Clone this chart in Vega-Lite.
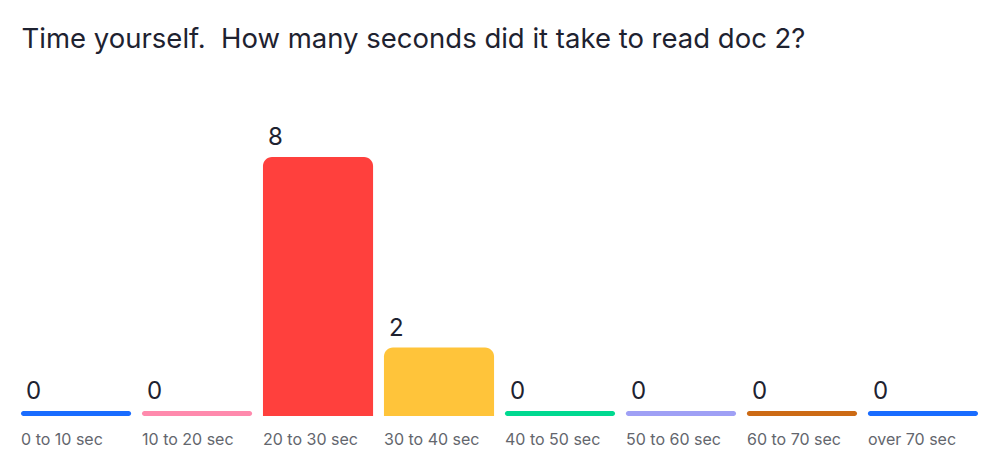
{
  "$schema": "https://vega.github.io/schema/vega-lite/v6.json",
  "width": 957,
  "height": 336,
  "autosize": {"type": "none"},
  "padding": {"left": 21, "top": 80, "right": 22, "bottom": 43},
  "background": "white",
  "title": {
    "text": "Time yourself.\u00a0 How many seconds did it take to read doc 2?",
    "anchor": "start",
    "font": "Inter",
    "fontSize": 27.5,
    "fontWeight": "normal",
    "color": "#1e2230",
    "offset": 27,
    "dx": 1
  },
  "config": {"view": {"stroke": null}, "font": "Inter"},
  "data": {
    "values": [
      {"cat": "0 to 10 sec", "value": 0, "color": "#196cff"},
      {"cat": "10 to 20 sec", "value": 0, "color": "#ff8aad"},
      {"cat": "20 to 30 sec", "value": 8, "color": "#ff403d"},
      {"cat": "30 to 40 sec", "value": 2, "color": "#ffc43a"},
      {"cat": "40 to 50 sec", "value": 0, "color": "#00d990"},
      {"cat": "50 to 60 sec", "value": 0, "color": "#9fa0f5"},
      {"cat": "60 to 70 sec", "value": 0, "color": "#cc6a14"},
      {"cat": "over 70 sec", "value": 0, "color": "#196cff"}
    ]
  },
  "encoding": {
    "x": {
      "field": "cat",
      "type": "nominal",
      "sort": null,
      "scale": {
        "domain": ["0 to 10 sec", "10 to 20 sec", "20 to 30 sec", "30 to 40 sec", "40 to 50 sec", "50 to 60 sec", "60 to 70 sec", "over 70 sec"],
        "paddingInner": 0.09,
        "paddingOuter": 0
      },
      "axis": {
        "title": null,
        "domain": false,
        "ticks": false,
        "labelAngle": 0,
        "labelAlign": "left",
        "labelOffset": -55,
        "labelPadding": 15,
        "labelFontSize": 16,
        "labelColor": "#63666d",
        "labelFont": "Inter"
      }
    }
  },
  "layer": [
    {
      "transform": [{"filter": "datum.value > 0"}],
      "mark": {"type": "bar", "cornerRadiusTopLeft": 9, "cornerRadiusTopRight": 9},
      "encoding": {
        "y": {
          "field": "value",
          "type": "quantitative",
          "scale": {"domain": [-0.157, 10.43], "nice": false, "zero": false},
          "axis": null
        },
        "y2": {"datum": -0.157},
        "color": {"field": "color", "type": "nominal", "scale": null}
      }
    },
    {
      "transform": [{"filter": "datum.value == 0"}],
      "mark": {"type": "bar", "cornerRadius": 2.5},
      "encoding": {
        "y": {"field": "value", "type": "quantitative"},
        "y2": {"datum": -0.157},
        "color": {"field": "color", "type": "nominal", "scale": null}
      }
    },
    {
      "mark": {
        "type": "text",
        "align": "left",
        "baseline": "bottom",
        "dx": 5,
        "dy": -7,
        "fontSize": 24,
        "color": "#1e2230",
        "font": "Inter"
      },
      "encoding": {
        "x": {"field": "cat", "type": "nominal", "sort": null, "bandPosition": 0},
        "y": {"field": "value", "type": "quantitative"},
        "text": {"field": "value", "type": "quantitative"}
      }
    }
  ]
}
